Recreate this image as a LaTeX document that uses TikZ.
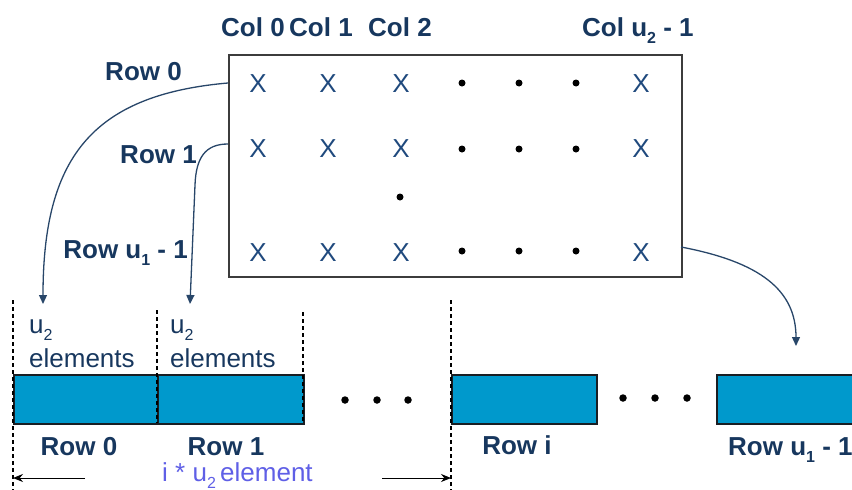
\documentclass[tikz,border=0pt]{standalone}
\usepackage{fontspec}
\setmainfont{Liberation Sans}
\usetikzlibrary{arrows.meta}
\definecolor{navy}{RGB}{23,55,94}
\definecolor{crossblue}{RGB}{31,73,125}
\definecolor{linkblue}{RGB}{40,70,105}
\definecolor{barfill}{RGB}{0,153,204}
\definecolor{barline}{RGB}{25,30,35}
\definecolor{frame}{RGB}{60,60,60}
\definecolor{violet}{RGB}{95,95,230}
% lowered small subscript digit
\newcommand{\lsub}[1]{\raisebox{-0.28em}{\fontsize{16}{16}\selectfont #1}}
\tikzset{
  lbl/.style={font=\fontsize{26}{30}\selectfont\bfseries, text=navy, inner sep=0pt},
  cell/.style={font=\fontsize{26}{30}\selectfont, text=crossblue, inner sep=0pt},
  note/.style={font=\fontsize{26}{30}\selectfont, text=navy, inner sep=0pt},
  dotmark/.style={circle, fill=black, inner sep=0pt, minimum size=7pt},
  bigdot/.style={circle, fill=black, inner sep=0pt, minimum size=7.5pt},
  link/.style={draw=linkblue, line width=1.3pt, -{Triangle[length=9pt,width=8pt]}},
  rowbar/.style={draw=barline, line width=1.5pt, fill=barfill, inner sep=0pt, minimum height=49pt, anchor=north west},
  guide/.style={draw=black, line width=1.1pt, dash pattern=on 4pt off 3pt},
  span/.style={draw=black, line width=1pt, -{Stealth[length=10pt,width=8pt]}},
}
\begin{document}
\begin{tikzpicture}[x=1pt,y=-1pt]
\useasboundingbox (0,0) rectangle (852,490);
\clip (0,0) rectangle (852,490);

% the two-dimensional array
\node[draw=frame, line width=1.5pt, minimum width=453pt, minimum height=222pt, anchor=north west, inner sep=0pt] (grid) at (228,54) {};

% column headings
\node[lbl, anchor=base] (c0) at (253,36) {Col 0};
\node[lbl, anchor=base] (c1) at (321,36) {Col 1};
\node[lbl, anchor=base] (c2) at (400,36) {Col 2};
\node[lbl, anchor=base west] (cn) at (582,36) {Col u\lsub{2} - 1};

% row headings
\node[lbl, anchor=base east] (r0) at (182,80) {Row 0};
\node[lbl, anchor=base east] (r1) at (197,163) {Row 1};
\node[lbl, anchor=base east] (rn) at (188,258) {Row u\lsub{1} - 1};

% array entries
\foreach \y/\r in {84/a,149/b,253/c}{
  \node[cell] (x\r0) at (258,\y) {X};
  \node[cell] (x\r1) at (328,\y) {X};
  \node[cell] (x\r2) at (401,\y) {X};
  \node[cell] (x\r3) at (641,\y) {X};
}
\foreach \y/\r in {83/a,149/b,251/c}{
  \node[dotmark] (d\r0) at (462,\y) {};
  \node[dotmark] (d\r1) at (519,\y) {};
  \node[dotmark] (d\r2) at (576,\y) {};
}
\node[dotmark] (dmid) at (400,197) {};

% linear memory layout
\node[rowbar, minimum width=144pt] (b0) at (13,374) {};
\node[rowbar, minimum width=146pt] (b1) at (157,374) {};
\node[rowbar, minimum width=145pt] (bi) at (451,374) {};
\node[rowbar, minimum width=160pt] (bn) at (716,374) {};

\foreach \x/\n in {345/a,377/b,408/c}{ \node[bigdot] (g\n) at (\x,400) {}; }
\foreach \x/\n in {623/a,655/b,687/c}{ \node[bigdot] (h\n) at (\x,398) {}; }

% dashed guides
\coordinate (ga0) at (13,300);  \coordinate (gb0) at (13,490);
\coordinate (ga1) at (157,310); \coordinate (gb1) at (157,423);
\coordinate (ga2) at (303,312); \coordinate (gb2) at (303,423);
\coordinate (ga3) at (451,300); \coordinate (gb3) at (451,490);
\foreach \k in {0,1,2,3}{ \draw[guide] (ga\k) -- (gb\k); }

% segment captions
\node[note, anchor=base west] (u0) at (29,333) {u\lsub{2}};
\node[note, anchor=base west] (e0) at (29,367) {elements};
\node[note, anchor=base west] (u1) at (170,333) {u\lsub{2}};
\node[note, anchor=base west] (e1) at (170,367) {elements};

\node[lbl, anchor=base] (l0) at (79,455) {Row 0};
\node[lbl, anchor=base] (l1) at (226,455) {Row 1};
\node[lbl, anchor=base] (li) at (517,454) {Row i};
\node[lbl, anchor=base west] (ln) at (728,455) {Row u\lsub{1} - 1};

\node[note, text=violet, anchor=base west] (off) at (162,481) {i * u\lsub{2}\,element};

% offset span
\coordinate (sa) at (85,478);  \coordinate (sb) at (13,478);
\coordinate (sc) at (382,478); \coordinate (sd) at (451,478);
\draw[span] (sa) -- (sb);
\draw[span] (sc) -- (sd);

% rows mapped into memory
\coordinate (o0) at (228,83);  \coordinate (t0) at (43,304);
\coordinate (o1) at (228,144); \coordinate (t1) at (190,304);
\coordinate (on) at (681,247); \coordinate (tn) at (796,346);
\draw[link] (o0) .. controls (90,95) and (43,160) .. (t0);
\draw[link] (o1) .. controls (205,144) and (196,158) .. (195,185) -- (t1);
\draw[link] (on) .. controls (760,262) and (796,290) .. (tn);
\end{tikzpicture}
\end{document}
